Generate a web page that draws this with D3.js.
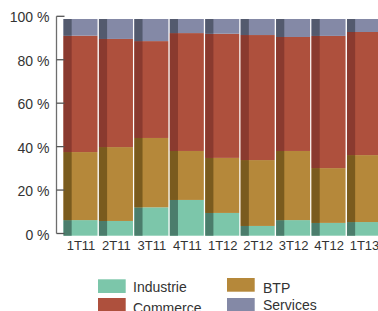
<!DOCTYPE html>
<html>
<head>
<meta charset="utf-8">
<script src="https://cdn.jsdelivr.net/npm/d3@7"></script>
<style>
body { margin: 0; background: #fff; }
svg { display: block; font-family: "Liberation Sans", Arial, sans-serif; }
</style>
</head>
<body>
<svg width="378" height="311"></svg>
<script>
// quarters and sector shares (%)
var quarters = ["1T11", "2T11", "3T11", "4T11", "1T12", "2T12", "3T12", "4T12", "1T13"];
var industrie = [7.2, 6.8, 13.1, 16.5, 10.5, 4.5, 7.2, 5.9, 6.3];
var btp       = [31.4, 34.1, 32.0, 22.6, 25.4, 30.4, 31.9, 25.3, 30.9];
var commerce  = [53.7, 49.9, 44.7, 54.4, 57.3, 57.7, 52.6, 61.0, 56.8];
var services  = [7.7, 9.2, 10.2, 6.5, 6.8, 7.4, 8.3, 7.8, 6.0];
var yTicks = [0, 20, 40, 60, 80, 100];

var keys = ["Industrie", "BTP", "Commerce", "Services"];
var colors = { Industrie: "#7cc6aa", BTP: "#b5883a", Commerce: "#ae503d", Services: "#8489a6" };
var darks  = { Industrie: "#4b7d6c", BTP: "#7a5b1e", Commerce: "#8a3a2f", Services: "#535a6e" };

var data = quarters.map(function (q, i) {
    return { q: q, Industrie: industrie[i], BTP: btp[i], Commerce: commerce[i], Services: services[i] };
});

var svg = d3.select("svg");

var x = d3.scaleBand().domain(quarters).range([63.5, 381]).paddingInner(0.04).paddingOuter(0);
var y = d3.scaleLinear().domain([0, 100]).range([233.5, 16.3]);   // axis
var yb = d3.scaleLinear().domain([0, 100]).range([235.7, 19]);    // bars (3d offset)

var series = d3.stack().keys(keys)(data);

var groups = svg.append("g").selectAll("g")
    .data(series)
    .join("g");

// front face
groups.selectAll("rect.front")
    .data(function (s) { return s.map(function (d) { return { key: s.key, d: d }; }); })
    .join("rect")
    .attr("class", "front")
    .attr("x", function (e) { return x(e.d.data.q); })
    .attr("width", x.bandwidth())
    .attr("y", function (e) { return yb(e.d[1]); })
    .attr("height", function (e) { return yb(e.d[0]) - yb(e.d[1]); })
    .attr("fill", function (e) { return colors[e.key]; });

// darker side strip
groups.selectAll("rect.side")
    .data(function (s) { return s.map(function (d) { return { key: s.key, d: d }; }); })
    .join("rect")
    .attr("class", "side")
    .attr("x", function (e) { return x(e.d.data.q); })
    .attr("width", x.bandwidth() * 0.24)
    .attr("y", function (e) { return yb(e.d[1]); })
    .attr("height", function (e) { return yb(e.d[0]) - yb(e.d[1]); })
    .attr("fill", function (e) { return darks[e.key]; });

// y axis
var yAxis = svg.append("g").attr("transform", "translate(56.5,0)");
yAxis.append("line")
    .attr("x1", 0).attr("x2", 0)
    .attr("y1", y(100)).attr("y2", y(0))
    .attr("stroke", "#6e6e6e").attr("stroke-width", 1.3);
yAxis.selectAll("line.tick")
    .data(yTicks)
    .join("line")
    .attr("class", "tick")
    .attr("x1", 0).attr("x2", 8)
    .attr("y1", function (d) { return y(d); })
    .attr("y2", function (d) { return y(d); })
    .attr("stroke", "#555").attr("stroke-width", 1.3);
yAxis.selectAll("text")
    .data(yTicks)
    .join("text")
    .attr("x", -7)
    .attr("y", function (d) { return y(d); })
    .attr("dy", "0.44em")
    .attr("text-anchor", "end")
    .attr("font-size", 14)
    .attr("fill", "#333")
    .text(function (d) { return d + " %"; });

// x labels
svg.append("g").selectAll("text")
    .data(quarters)
    .join("text")
    .attr("x", function (d) { return x(d) + x.bandwidth() / 2 + 0.5; })
    .attr("y", 249.5)
    .attr("text-anchor", "middle")
    .attr("font-size", 13)
    .attr("fill", "#333")
    .text(function (d) { return d; });

// legend
var legendItems = [
    { key: "Industrie", sx: 98, sy: 279.3, tx: 133, ty: 292 },
    { key: "Commerce", sx: 98, sy: 298, tx: 133, ty: 312.5 },
    { key: "BTP", sx: 227, sy: 278, tx: 263, ty: 292.7 },
    { key: "Services", sx: 227, sy: 298, tx: 263, ty: 309.5 }
];
var legend = svg.append("g").selectAll("g")
    .data(legendItems)
    .join("g");
legend.append("rect")
    .attr("x", function (d) { return d.sx; })
    .attr("y", function (d) { return d.sy; })
    .attr("width", 27.7)
    .attr("height", 13.7)
    .attr("fill", function (d) { return colors[d.key]; });
legend.append("text")
    .attr("x", function (d) { return d.tx; })
    .attr("y", function (d) { return d.ty; })
    .attr("font-size", 14)
    .attr("fill", "#333")
    .text(function (d) { return d.key; });
</script>
</body>
</html>
